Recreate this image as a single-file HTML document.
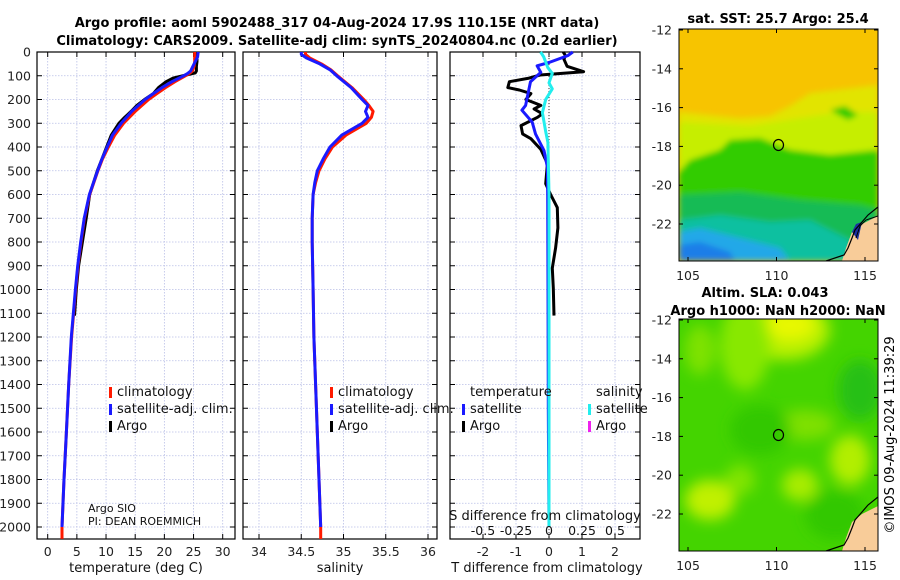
<!DOCTYPE html>
<html><head><meta charset="utf-8">
<style>
html,body{margin:0;padding:0;background:#fff;width:900px;height:580px;overflow:hidden}
svg{display:block;font-family:"DejaVu Sans","Liberation Sans",sans-serif}
</style></head>
<body>
<svg id="fig" width="900" height="580" viewBox="0 0 900 580">
<defs>
<filter id="blur3" x="-20%" y="-20%" width="140%" height="140%"><feGaussianBlur stdDeviation="3"/></filter>
<filter id="blur6" x="-30%" y="-30%" width="160%" height="160%"><feGaussianBlur stdDeviation="7"/></filter>
<clipPath id="clipTop"><rect x="679" y="29" width="199" height="232"/></clipPath>
<clipPath id="clipBot"><rect x="679" y="319" width="199" height="232"/></clipPath>
</defs>
<text x="337" y="27" text-anchor="middle" font-size="13" font-weight="bold">Argo profile: aoml 5902488_317 04-Aug-2024 17.9S 110.15E (NRT data)</text>
<text x="337" y="45" text-anchor="middle" font-size="13" font-weight="bold">Climatology: CARS2009. Satellite-adj clim: synTS_20240804.nc (0.2d earlier)</text>
<g id="panels"></g>

<!-- Top map -->
<g>
<g clip-path="url(#clipTop)">
<rect x="679" y="29" width="199" height="232" fill="#f7c400"/>
<g filter="url(#blur3)">
<polygon points="679,112 740,118 770,116 790,106 810,93 878,85 878,180 679,180" fill="#e2e400"/>
<polygon points="679,122 750,126 800,118 840,112 878,112 878,200 679,200" fill="#c6ee00"/>
<polygon points="690,160 720,150 730,140 760,138 790,150 830,155 878,150 878,230 679,230 679,172" fill="#33cc00"/>
<polygon points="679,195 740,192 800,200 860,205 878,210 878,261 679,261" fill="#18bb55"/>
<polygon points="679,220 720,215 770,222 810,220 850,240 850,261 679,261" fill="#10c0a0"/>
<polygon points="679,232 700,228 740,238 780,248 790,261 679,261" fill="#22a8e8"/>
<polygon points="679,245 700,242 730,252 735,261 679,261" fill="#1e7ee8"/>
<polygon points="830,110 845,106 858,115 848,120" fill="#33cc00"/>
</g>
<polygon points="852,232 862,224 870,220 878,216 878,261 842,261 846,248" fill="#f8cc99"/>
<polygon points="852,232 856,224 862,222 858,240" fill="#1a30a0"/>
<polyline points="878,207 868,215 862,222 855,230 852,238 848,248 844,255 826,261" fill="none" stroke="#000" stroke-width="1.2"/>
<polyline points="878,216 866,220 860,226 856,238" fill="none" stroke="#000" stroke-width="1"/>
</g>
<rect x="679" y="29" width="199" height="232" fill="none" stroke="#000" stroke-width="1"/>
<ellipse cx="778.5" cy="145" rx="5" ry="5.5" fill="none" stroke="#000" stroke-width="1.2"/>
<text x="778" y="23" text-anchor="middle" font-size="13" font-weight="bold">sat. SST: 25.7 Argo: 25.4</text>
</g>

<!-- Bottom map -->
<g>
<g clip-path="url(#clipBot)">
<rect x="679" y="319" width="199" height="232" fill="#44d400"/>
<g filter="url(#blur6)">
<ellipse cx="785" cy="330" rx="45" ry="30" fill="#b8f000"/>
<ellipse cx="790" cy="325" rx="25" ry="15" fill="#e8f800"/>
<ellipse cx="745" cy="345" rx="25" ry="45" fill="#88e800"/>
<ellipse cx="700" cy="350" rx="15" ry="25" fill="#7ee200"/>
<ellipse cx="860" cy="390" rx="22" ry="30" fill="#28c018"/>
<ellipse cx="850" cy="460" rx="20" ry="25" fill="#b2ee00"/>
<ellipse cx="800" cy="485" rx="18" ry="16" fill="#a8ec00"/>
<ellipse cx="710" cy="500" rx="25" ry="20" fill="#c0f000"/>
<ellipse cx="805" cy="425" rx="30" ry="15" fill="#7ee000"/>
<ellipse cx="760" cy="430" rx="30" ry="25" fill="#30c800"/>
<ellipse cx="740" cy="480" rx="15" ry="15" fill="#80e400"/>
<ellipse cx="835" cy="515" rx="30" ry="25" fill="#30c800"/>
</g>
<polygon points="852,522 862,514 870,510 878,506 878,551 842,551 846,538" fill="#f8cc99"/>
<polyline points="878,497 868,505 862,512 855,520 852,528 848,538 844,545 826,551" fill="none" stroke="#000" stroke-width="1.2"/>
</g>
<rect x="679" y="319" width="199" height="232" fill="none" stroke="#000" stroke-width="1"/>
<ellipse cx="778.5" cy="435" rx="5" ry="5.5" fill="none" stroke="#000" stroke-width="1.2"/>
<text x="765" y="297" text-anchor="middle" font-size="13" font-weight="bold">Altim. SLA: 0.043</text>
<text x="778" y="315" text-anchor="middle" font-size="13" font-weight="bold">Argo h1000: NaN h2000: NaN</text>
</g>
<text transform="translate(894,435) rotate(-90)" text-anchor="middle" font-size="13">©IMOS 09-Aug-2024 11:39:29</text>
<g id="mapaxes"></g>
</svg>
<script>
// ---- data ----
const depthTicks = [0,100,200,300,400,500,600,700,800,900,1000,1100,1200,1300,1400,1500,1600,1700,1800,1900,2000];
const tempTicks = [0,5,10,15,20,25,30];
const salTicks = [34,34.5,35,35.5,36];
const salTickLabels = ["34","34.5","35","35.5","36"];
const tdiffTicks = [-2,-1,0,1,2];
const sdiffTicks = [-0.5,-0.25,0,0.25,0.5];
const sdiffTickLabels = ["-0.5","-0.25","0","0.25","0.5"];

const climTDepth = [0,20,40,60,80,90,100,125,150,175,200,250,300,350,400,450,500,600,700,800,900,1000,1200,1400,1600,1800,2000,2050];
const climT = [25.2,25.2,25.2,25.1,24.8,24.3,23.6,21.8,20.2,18.7,17.3,15.0,13.0,11.5,10.4,9.4,8.6,7.2,6.3,5.7,5.2,4.8,4.1,3.6,3.2,2.8,2.45,2.45];
const satTDepth = [0,20,40,60,80,90,100,125,150,175,200,250,300,350,400,450,500,600,700,800,900,1000,1200,1400,1600,1800,2000];
const satT = [25.8,25.7,25.3,24.9,24.5,24.0,23.3,21.3,19.6,18.1,16.7,14.4,12.6,11.1,10.2,9.3,8.55,7.15,6.25,5.65,5.15,4.75,4.05,3.6,3.2,2.8,2.45];
const argoTDepth = [0,20,40,60,80,88,95,110,125,150,175,200,225,250,275,300,350,400,450,500,600,700,800,900,1000,1110];
const argoT = [25.6,25.6,25.6,25.5,25.5,25.3,24.0,21.5,20.3,19.0,18.1,16.6,15.3,14.3,13.2,12.2,10.9,10.1,9.3,8.5,7.2,6.6,5.95,5.3,4.9,4.6];

const salDepth = [0,10,25,50,75,100,150,200,225,250,275,300,350,400,450,500,550,600,700,800,1000,1200,1400,1600,1800,2000];
const climS = [34.55,34.55,34.6,34.74,34.85,34.93,35.1,35.24,35.3,35.35,35.33,35.27,35.03,34.87,34.78,34.71,34.67,34.64,34.63,34.63,34.64,34.65,34.67,34.69,34.71,34.73];
const satS = [34.5,34.5,34.56,34.72,34.84,34.92,35.09,35.22,35.29,35.26,35.29,35.22,34.98,34.84,34.76,34.69,34.66,34.64,34.63,34.63,34.64,34.65,34.67,34.69,34.71,34.73];

const argoTdiffDepth = [0,15,30,60,83,97,110,125,150,160,175,200,225,240,260,275,310,345,365,410,470,555,600,655,740,825,910,994,1110];
const argoTdiff = [0.43,0.5,0.45,0.55,1.05,-0.27,-0.6,-1.2,-1.25,-0.9,-0.55,-0.7,-0.25,-0.45,-0.2,-0.35,-0.85,-0.8,-0.55,-0.25,-0.05,-0.1,0.05,0.25,0.27,0.2,0.1,0.13,0.15];
const satTdiffDepth = [0,15,44,58,86,125,225,245,295,345,415,485,600,1000,1500,2000];
const satTdiff = [0.72,0.57,0,-0.36,-0.25,-0.56,-0.71,-0.82,-0.51,-0.41,-0.15,-0.05,-0.04,-0.03,-0.02,0];
const satSdiffDepth = [0,20,65,90,130,155,200,255,335,380,600,2000];
const satSdiff = [-0.064,-0.04,-0.01,0.025,0,0.025,-0.025,-0.05,-0.025,-0.008,0,0];

const latTicks = [-12,-14,-16,-18,-20,-22];
const lonTicks = [105,110,115];

// ---- drawing ----
const NS = "http://www.w3.org/2000/svg";
const root = document.getElementById('panels');
function mk(tag, attrs, parent){ const e=document.createElementNS(NS,tag); for(const k in attrs) e.setAttribute(k,attrs[k]); (parent||root).appendChild(e); return e; }
const Y0=52, YK=0.2375, YB=539;
function depthY(d){ return Y0 + d*YK; }
function scaleX(v0,x0,v1,x1){ return v => x0 + (v-v0)*(x1-x0)/(v1-v0); }
const xT = scaleX(0,47.7,30,222.7);
const xS = scaleX(34,259,36,428);
const xTd = scaleX(0,549,2,615);
const xSd = scaleX(0,549,0.5,615);

function panel(name,L,R,ticks,fx,labels){
  const g = mk('g',{});
  
  
  ticks.forEach(t=>{ const x=fx(t);
    mk('line',{x1:x,x2:x,y1:Y0,y2:YB,stroke:'#b9bfe6','stroke-width':0.8,'stroke-dasharray':'1.5,1.5'},g);
    mk('line',{x1:x,x2:x,y1:Y0,y2:Y0+5,stroke:'#000','stroke-width':1},g);
    mk('line',{x1:x,x2:x,y1:YB,y2:YB-5,stroke:'#000','stroke-width':1},g);
  });
  depthTicks.forEach(d=>{ const y=depthY(d);
    mk('line',{x1:L,x2:R,y1:y,y2:y,stroke:'#b9bfe6','stroke-width':0.8,'stroke-dasharray':'1.5,1.5'},g);
    mk('line',{x1:L,x2:L+5,y1:y,y2:y,stroke:'#000'},g);
    mk('line',{x1:R,x2:R-5,y1:y,y2:y,stroke:'#000'},g);
  });
  mk('rect',{x:L,y:Y0,width:R-L,height:YB-Y0,fill:'none',stroke:'#000','stroke-width':1.2},g);
  if(labels) ticks.forEach((t,i)=>{ const tx=mk('text',{x:fx(t),y:556,'text-anchor':'middle','font-size':12.5,fill:'#222'},g); tx.textContent=labels[i]; });
  return g;
}
function line(g,name,depths,vals,fx,color,w){
  const pts = depths.map((d,i)=>fx(vals[i]).toFixed(1)+','+depthY(d).toFixed(1)).join(' ');
  const p = mk('polyline',{points:pts,fill:'none',stroke:color,'stroke-width':w,'stroke-linejoin':'round'},g);
  
  
}
function txt(g,x,y,s,size,anchor,name){
  const t=mk('text',{x:x,y:y,'font-size':size,'text-anchor':anchor||'start',fill:'#111'},g);
  t.textContent=s;
  
  
  return t;
}
function legendMark(g,x,y,color){ mk('rect',{x:x,y:y-10,width:3,height:11,fill:color},g); }

// depth labels
depthTicks.forEach(d=>{ const t=mk('text',{x:31,y:depthY(d)+4.5,'text-anchor':'end','font-size':12.5,fill:'#222'}); t.textContent=String(d); });

// Panel 1
const g1 = panel('temperature-panel',37,235,tempTicks,xT,tempTicks.map(String));
line(g1,'argo-temperature-line',argoTDepth,argoT,xT,'#000',3);
line(g1,'climatology-temperature-line',climTDepth,climT,xT,'#ff1a00',3);
line(g1,'satellite-temperature-line',satTDepth,satT,xT,'#1a1aff',3);
legendMark(g1,109,397,'#ff1a00'); txt(g1,117,396,'climatology',13,'start','legend-climatology');
legendMark(g1,109,414,'#1a1aff'); txt(g1,117,413,'satellite-adj. clim.',13,'start','legend-satellite');
legendMark(g1,109,431,'#000'); txt(g1,117,430,'Argo',13,'start','legend-argo');
txt(g1,88,512,'Argo SIO',11,'start','float-owner');
txt(g1,88,525,'PI: DEAN ROEMMICH',11,'start','float-pi');
txt(g1,136,572,'temperature (deg C)',13,'middle','x-axis-title-temperature');

// Panel 2
const g2 = panel('salinity-panel',243,437,salTicks,xS,salTickLabels);
line(g2,'climatology-salinity-line',salDepth,climS,xS,'#ff1a00',3);
line(g2,'satellite-salinity-line',salDepth,satS,xS,'#1a1aff',3);
mk('line',{x1:xS(34.73),x2:xS(34.73),y1:depthY(2000),y2:YB,stroke:'#ff1a00','stroke-width':3},g2);
legendMark(g2,330,397,'#ff1a00'); txt(g2,338,396,'climatology',13,'start','legend-climatology-2');
legendMark(g2,330,414,'#1a1aff'); txt(g2,338,413,'satellite-adj. clim.',13,'start','legend-satellite-2');
legendMark(g2,330,431,'#000'); txt(g2,338,430,'Argo',13,'start','legend-argo-2');
txt(g2,340,572,'salinity',13,'middle','x-axis-title-salinity');

// Panel 3
const g3 = panel('difference-panel',450,640,tdiffTicks,xTd,tdiffTicks.map(String));
mk('line',{x1:549,x2:549,y1:Y0,y2:YB,stroke:'#333','stroke-width':1,'stroke-dasharray':'1,2'},g3);
line(g3,'argo-temperature-difference-line',argoTdiffDepth,argoTdiff,xTd,'#000',3);
line(g3,'satellite-temperature-difference-line',satTdiffDepth,satTdiff,xTd,'#1a1aff',3);
line(g3,'satellite-salinity-difference-line',satSdiffDepth,satSdiff,xSd,'#22eeee',3);
txt(g3,470,396,'temperature',13,'start','legend-temperature-header');
txt(g3,596,396,'salinity',13,'start','legend-salinity-header');
legendMark(g3,462,414,'#1a1aff'); txt(g3,470,413,'satellite',13,'start','legend-t-satellite');
legendMark(g3,462,431,'#000'); txt(g3,470,430,'Argo',13,'start','legend-t-argo');
legendMark(g3,588,414,'#22eeee'); txt(g3,596,413,'satellite',13,'start','legend-s-satellite');
legendMark(g3,588,431,'#ee22ee'); txt(g3,596,430,'Argo',13,'start','legend-s-argo');
txt(g3,545,520,'S difference from climatology',13,'middle','s-axis-title');
sdiffTicks.forEach((t,i)=>{ txt(g3,xSd(t),535,sdiffTickLabels[i],12.5,'middle','s-tick-label'); });
txt(g3,547,572,'T difference from climatology',13,'middle','x-axis-title-tdiff');

// Map axes
const ma = document.getElementById('mapaxes');
function mapAxes(top,name){
  const g = mk('g',{},ma);
  
  
  const lx = v => 688 + (v-105)*17.7;
  const ly = v => top+1 + (-12-v)*19.4;
  latTicks.forEach(v=>{ const y=ly(v);
    mk('line',{x1:679,x2:683,y1:y,y2:y,stroke:'#000'},g);
    mk('line',{x1:878,x2:874,y1:y,y2:y,stroke:'#000'},g);
    const t=mk('text',{x:672,y:y+4.5,'text-anchor':'end','font-size':12.5,fill:'#222'},g); t.textContent=String(v); });
  lonTicks.forEach(v=>{ const x=lx(v);
    mk('line',{x1:x,x2:x,y1:top,y2:top+4,stroke:'#000'},g);
    mk('line',{x1:x,x2:x,y1:top+232,y2:top+228,stroke:'#000'},g);
    const t=mk('text',{x:x,y:top+251,'text-anchor':'middle','font-size':12.5,fill:'#222'},g); t.textContent=String(v); });
}
mapAxes(29,'sst-map-axes');
mapAxes(319,'sla-map-axes');
</script>
</body></html>
